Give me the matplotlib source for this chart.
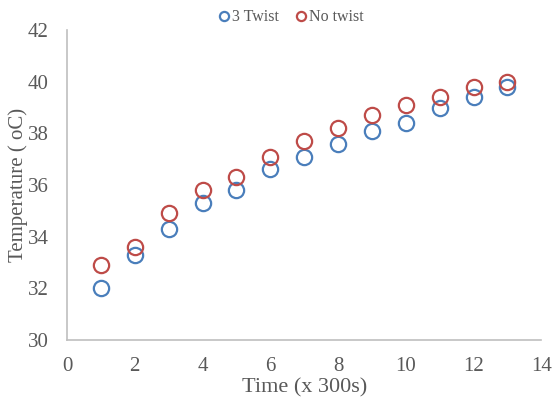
import matplotlib.pyplot as plt

time_steps = [1, 2, 3, 4, 5, 6, 7, 8, 9, 10, 11, 12, 13]
twist3 = [32.0, 33.3, 34.3, 35.3, 35.8, 36.6, 37.1, 37.6, 38.1, 38.4, 39.0, 39.4, 39.8]
no_twist = [32.9, 33.6, 34.9, 35.8, 36.3, 37.1, 37.7, 38.2, 38.7, 39.1, 39.4, 39.8, 40.0]
x_ticks = [0, 2, 4, 6, 8, 10, 12, 14]
y_ticks = [30, 32, 34, 36, 38, 40, 42]

plt.rcParams['font.family'] = ['Liberation Serif', 'DejaVu Serif']

fig = plt.figure(figsize=(5.54, 4.07), dpi=100)
ax = fig.add_axes([0.121, 0.165, 0.856, 0.761])

ax.plot(time_steps, twist3, 'o', mfc='none', mec='#4a7ebb', mew=1.6, ms=11, label="3 Twist")
ax.plot(time_steps, no_twist, 'o', mfc='none', mec='#be4b48', mew=1.6, ms=11, label="No twist")

ax.set_xlim(0, 14)
ax.set_ylim(30, 42)
ax.set_xticks(x_ticks)
ax.set_yticks(y_ticks)
ax.tick_params(length=0, labelsize=15, labelcolor="#595959")
ax.tick_params(axis='y', pad=13)
ax.tick_params(axis='x', pad=12)
for s in ["top", "right"]:
    ax.spines[s].set_visible(False)
for s in ["left", "bottom"]:
    ax.spines[s].set_color("#bfbfbf")
    ax.spines[s].set_linewidth(1.2)

ax.set_xlabel("Time (x 300s)", fontsize=16, color="#595959", labelpad=2)
ax.set_ylabel("Temperature ( oC)", fontsize=15, color="#595959")
ax.yaxis.set_label_coords(-0.082, 0.5)

ax.legend(loc="lower center", bbox_to_anchor=(0.47, 0.995), ncol=2, frameon=False,
          fontsize=11.5, labelcolor="#595959", handletextpad=0.0, columnspacing=0.9,
          markerscale=0.6, handlelength=1.0, borderaxespad=0.0)

plt.savefig("out.png", dpi=100)
